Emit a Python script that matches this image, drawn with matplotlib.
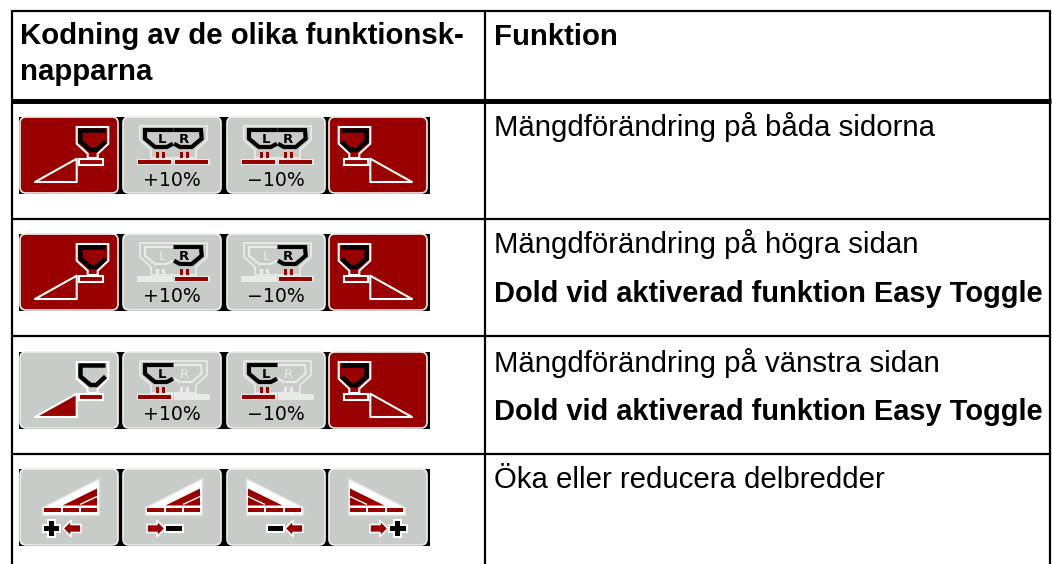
#!/usr/bin/env python3
"""Function key table with spreader icons, drawn in pixel coordinates."""

import matplotlib
matplotlib.use("Agg")
import matplotlib.pyplot as plt
from matplotlib.patches import FancyBboxPatch, Polygon, Rectangle

# ---------------------------------------------------------------------------
# Table content
# ---------------------------------------------------------------------------

HEADER_LEFT = ["Kodning av de olika funktionsk-", "napparna"]
HEADER_RIGHT = "Funktion"
ROW_TEXT = [
    "Mängdförändring på båda sidorna",
    "Mängdförändring på högra sidan",
    "Mängdförändring på vänstra sidan",
    "Öka eller reducera delbredder",
]
ROW_NOTE = [None, "Dold vid aktiverad funktion Easy Toggle",
            "Dold vid aktiverad funktion Easy Toggle", None]
PERCENT_LABELS = ["+10%", "−10%"]

# which halves of the hopper icons are active in rows 1-3
ACTIVE_SIDES = [("L", "R"), ("R",), ("L",)]
# left button face in rows 1-3
LEFT_BUTTON_ON = [True, True, False]
# section buttons in row 4: (direction, sign)
SECTION_KEYS = [("left", "+"), ("right", "-"), ("left", "-"), ("right", "+")]

# ---------------------------------------------------------------------------
# Style constants
# ---------------------------------------------------------------------------

RED = "#990000"
GREY = "#c8ccc8"
PALE = "#e9ebe9"
FONT = "Liberation Sans"
TEXT_SIZE = 21.2
NOTE_SIZE = 20.9
BTN_X = [20, 123, 227, 329]
BTN_W = 98
BTN_H = 75
STRIP_Y = [117, 234, 352, 469]


def button(ax, x, y, face):
    ax.add_patch(FancyBboxPatch((x + 3, y + 3), BTN_W - 6, BTN_H - 5,
                                boxstyle="round,pad=3,rounding_size=6",
                                fc=face, ec="#eef0ee", lw=1.2, zorder=2))


def poly(ax, x, y, pts, flip=False, **kw):
    pts = [((BTN_W - px if flip else px) + x, py + y) for px, py in pts]
    closed = kw.pop("closed", True)
    ax.add_patch(Polygon(pts, closed=closed, zorder=kw.pop("zorder", 3), **kw))


def spreader_button(ax, x, y, on, flip=False):
    """Outer buttons: one hopper and its spread triangle."""
    face = RED if on else GREY
    button(ax, x, y, face)
    poly(ax, x, y, [(15, 65), (56.7, 41.7), (56.7, 65)], flip,
         fc=RED, ec="white", lw=1.5, joinstyle="round")
    poly(ax, x, y, [(56.7, 10), (88.3, 10), (88.3, 26.7), (77.7, 36.7), (77.7, 41),
                    (67.7, 41), (67.7, 36.7), (56.7, 26.7)], flip,
         fc=face, ec="white", lw=1.5)
    poly(ax, x, y, [(85.5, 24.5), (76.5, 33), (70.5, 33), (60.5, 24.5), (60.5, 13.5), (85.5, 13.5)],
         flip, closed=False, fc="none", ec="black", lw=3.2, joinstyle="miter")
    poly(ax, x, y, [(59, 41.5), (83.3, 41.5), (83.3, 47.7), (59, 47.7)], flip,
         fc=RED, ec="white", lw=1.5)


def hopper_button(ax, x, y, sides, label):
    """Middle buttons: twin hopper, L/R letters and the percent text."""
    button(ax, x, y, GREY)
    poly(ax, x, y, [(17, 9), (84, 9), (84, 23), (73, 33), (73, 41), (28, 41), (28, 33), (17, 23)],
         fc=GREY, ec=PALE, lw=1.3)
    left_half = [(50.5, 13), (22, 13), (22, 21.7), (32, 30), (43.7, 30), (50, 26.7)]
    right_half = [(50.5, 13), (78, 13), (78.7, 21.7), (68.7, 30), (57, 30), (51, 26.7)]
    for name, pts, tx, bars, bar_x in (("L", left_half, 39, (33, 38.5), 15),
                                       ("R", right_half, 61, (57, 62.5), 52)):
        active = name in sides
        poly(ax, x, y, pts, closed=False, fc="none", ec="black" if active else PALE,
             lw=3.0 if active else 1.5, zorder=4 if active else 3)
        ax.text(x + tx, y + 22.5, name, color="black" if active else PALE, family="DejaVu Sans",
                fontweight="bold" if active else "normal", fontsize=9.5,
                ha="center", va="center", zorder=5)
        color = RED if active else PALE
        for bx in bars:
            ax.add_patch(Rectangle((x + bx, y + 35), 3.4, 6, fc=color, ec="none", zorder=4))
        ax.add_patch(Rectangle((x + bar_x - 1.5, y + 41.5), 36, 6.6, fc=PALE, ec="none", zorder=3))
        ax.add_patch(Rectangle((x + bar_x, y + 43), 33, 3.5, fc=color, ec="none", zorder=4))
    ax.text(x + 49, y + 63, label, family="DejaVu Sans", fontsize=13.6, color="black",
            ha="center", va="center", zorder=5)


def arrow(ax, x, y, left_x, direction):
    w = 18
    if direction == "left":
        pts = [(0, 0), (8, -8), (8, -4), (w, -4), (w, 4), (8, 4), (8, 8)]
    else:
        pts = [(w, 0), (10, -8), (10, -4), (0, -4), (0, 4), (10, 4), (10, 8)]
    pts = [(left_x + px, 59.5 + py) for px, py in pts]
    poly(ax, x, y, pts, fc=RED, ec="white", lw=1.2, zorder=4, joinstyle="round")


def sign(ax, x, y, left_x, kind):
    w = 15.5
    cy = 59.5
    # white halo first, then the black sign
    ax.add_patch(Rectangle((x + left_x - 2, y + cy - 4.5), w + 4, 9, fc="white", ec="none", zorder=3))
    ax.add_patch(Rectangle((x + left_x, y + cy - 2.6), w, 5.2, fc="black", ec="none", zorder=4))
    if kind == "+":
        mid = left_x + w / 2
        ax.add_patch(Rectangle((x + mid - 4.5, y + cy - 9.5), 9, 19, fc="white", ec="none", zorder=3))
        ax.add_patch(Rectangle((x + mid - 2.6, y + cy - 7.7), 5.2, 15.4, fc="black", ec="none", zorder=4))


def section_button(ax, x, y, idx, direction, kind):
    button(ax, x, y, GREY)
    flip = idx >= 2
    poly(ax, x, y, [(22, 38), (22, 45.5), (79, 45.5), (79, 9)], flip, fc="white", ec="#dddddd",
         lw=1.0, joinstyle="round")
    for a, b in ((24, 40.5), (42.5, 59), (61, 77)):
        poly(ax, x, y, [(a, 38.5), (b, 38.5), (b, 42.5), (a, 42.5)], flip, fc=RED, ec="none", zorder=4)
    poly(ax, x, y, [(42.5, 36.5), (77, 19.5), (77, 36.5)], flip, fc=RED, ec="none", zorder=4)
    poly(ax, x, y, [(60, 35.5), (77, 27.5)], flip, closed=False, fc="none", ec="white", lw=1.0, zorder=5)
    if idx == 0:
        sign(ax, x, y, 23.5, kind)
        arrow(ax, x, y, 43, direction)
    elif idx == 1:
        arrow(ax, x, y, 24, direction)
        sign(ax, x, y, 43, kind)
    elif idx == 2:
        sign(ax, x, y, 40.5, kind)
        arrow(ax, x, y, 58, direction)
    else:
        arrow(ax, x, y, 41, direction)
        sign(ax, x, y, 61, kind)


def draw_strip(ax, y):
    ax.add_patch(Rectangle((19, y), 411, BTN_H + 1.5, fc="black", ec="none", zorder=1))


def main():
    fig = plt.figure(figsize=(10.52, 5.64), dpi=100)
    ax = fig.add_axes([0, 0, 1, 1])
    ax.set_xlim(0, 1052)
    ax.set_ylim(564, 0)
    ax.axis("off")

    # table rules
    for vx in (12, 485, 1050):
        ax.plot([vx, vx], [10, 564], color="black", lw=1.6, solid_capstyle="butt")
    ax.plot([11, 1051], [11, 11], color="black", lw=1.6, solid_capstyle="butt")
    ax.plot([11, 1051], [100.5, 100.5], color="black", lw=3.6, solid_capstyle="butt")
    for ly in (219, 336, 453.5):
        ax.plot([11, 1051], [ly, ly], color="black", lw=1.6, solid_capstyle="butt")

    # header
    for txt, by in zip(HEADER_LEFT, (44, 80)):
        ax.text(20, by, txt, family=FONT, fontweight="bold", fontsize=TEXT_SIZE, va="baseline")
    ax.text(494, 45, HEADER_RIGHT, family=FONT, fontweight="bold", fontsize=TEXT_SIZE, va="baseline")

    # function column
    for txt, note, by, by2 in zip(ROW_TEXT, ROW_NOTE, (136, 253, 372, 488), (None, 302, 420, None)):
        ax.text(494, by, txt, family=FONT, fontsize=TEXT_SIZE, va="baseline")
        if note:
            ax.text(494, by2, note, family=FONT, fontweight="bold", fontsize=NOTE_SIZE, va="baseline")

    # icon strips
    for r in range(3):
        y = STRIP_Y[r]
        draw_strip(ax, y)
        spreader_button(ax, BTN_X[0], y, LEFT_BUTTON_ON[r])
        hopper_button(ax, BTN_X[1], y, ACTIVE_SIDES[r], PERCENT_LABELS[0])
        hopper_button(ax, BTN_X[2], y, ACTIVE_SIDES[r], PERCENT_LABELS[1])
        spreader_button(ax, BTN_X[3], y, True, flip=True)
    draw_strip(ax, STRIP_Y[3])
    for i, (direction, kind) in enumerate(SECTION_KEYS):
        section_button(ax, BTN_X[i], STRIP_Y[3], i, direction, kind)

    fig.savefig("out.png", dpi=100)
    plt.close(fig)


if __name__ == "__main__":
    main()
